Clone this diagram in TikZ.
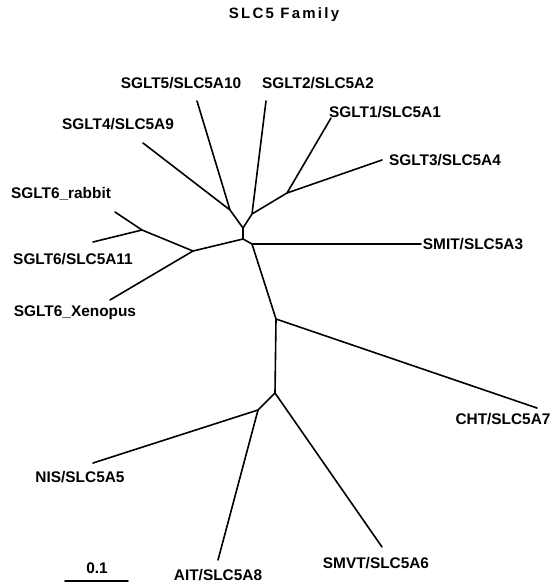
\documentclass[tikz,border=0pt]{standalone}
\usepackage{fontspec}
\setmainfont{Liberation Sans}
\newfontfamily\leaffont{Liberation Sans Bold}
\newfontfamily\titlefont[LetterSpace=15]{Liberation Sans Bold}
\begin{document}
\begin{tikzpicture}[x=1pt,y=-1pt,
		branch/.style={line width=1.6pt,line cap=round,line join=round},
		leaf/.style={font=\leaffont\fontsize{15.4}{18}\selectfont,inner sep=0pt}]
			\useasboundingbox (0,0) rectangle (550,583);
			\node (title) at (284,15) [font=\titlefont\fontsize{15}{18}\selectfont,inner sep=0pt] {SLC5 Family};
			\coordinate (n1) at (287,193);
			\coordinate (n2) at (252,214);
			\coordinate (n3) at (230,210);
			\coordinate (n4) at (243,228);
			\coordinate (n5) at (243,239);
			\coordinate (n6) at (252,244);
			\coordinate (n7) at (193,251);
			\coordinate (n8) at (142,230);
			\coordinate (n9) at (276,319);
			\coordinate (n10) at (275,393);
			\coordinate (n11) at (258,410);
			\coordinate (sglt4) at (143,143);
			\coordinate (sglt5) at (197,101);
			\coordinate (sglt2) at (266,101);
			\coordinate (sglt1) at (331,118);
			\coordinate (sglt3) at (382,160);
			\coordinate (smit) at (421,244);
			\coordinate (rabbit) at (115,212);
			\coordinate (sglt6) at (93,242);
			\coordinate (xenopus) at (110,300);
			\coordinate (cht) at (537,408);
			\coordinate (smvt) at (382,547);
			\coordinate (nis) at (93,463);
			\coordinate (ait) at (218,560);
			\draw [branch] (sglt1) -- (n1) -- (sglt3);
			\draw [branch] (n1) -- (n2) -- (sglt2);
			\draw [branch] (sglt4) -- (n3) -- (sglt5);
			\draw [branch] (n3) -- (n4) -- (n2);
			\draw [branch] (n4) -- (n5) -- (n6) -- (smit);
			\draw [branch] (n5) -- (n7) -- (xenopus);
			\draw [branch] (n7) -- (n8) -- (rabbit);
			\draw [branch] (n8) -- (sglt6);
			\draw [branch] (n6) -- (n9) -- (cht);
			\draw [branch] (n9) -- (n10) -- (smvt);
			\draw [branch] (n10) -- (n11) -- (nis);
			\draw [branch] (n11) -- (ait);
			\node (lsglt5) at (181,83) [leaf] {SGLT5/SLC5A10};
			\node (lsglt2) at (318,83) [leaf] {SGLT2/SLC5A2};
			\node (lsglt1) at (385,112) [leaf] {SGLT1/SLC5A1};
			\node (lsglt3) at (445,160) [leaf] {SGLT3/SLC5A4};
			\node (lsglt4) at (118,124) [leaf] {SGLT4/SLC5A9};
			\node (lrabbit) at (61,194) [leaf] {SGLT6\_rabbit};
			\node (lsglt6) at (73,259) [leaf] {SGLT6/SLC5A11};
			\node (lxenopus) at (75,313) [leaf] {SGLT6\_Xenopus};
			\node (lsmit) at (473,244) [leaf] {SMIT/SLC5A3};
			\node (lcht) at (503,419) [leaf] {CHT/SLC5A7};
			\node (lnis) at (80,477) [leaf] {NIS/SLC5A5};
			\node (lait) at (218,575) [leaf] {AIT/SLC5A8};
			\node (lsmvt) at (376,563) [leaf] {SMVT/SLC5A6};
			\coordinate (barl) at (65,581);
			\coordinate (barr) at (128,581);
			\draw [branch] (barl) -- (barr);
			\node (lbar) at (97,568) [leaf] {0.1};
		\end{tikzpicture}
\end{document}
